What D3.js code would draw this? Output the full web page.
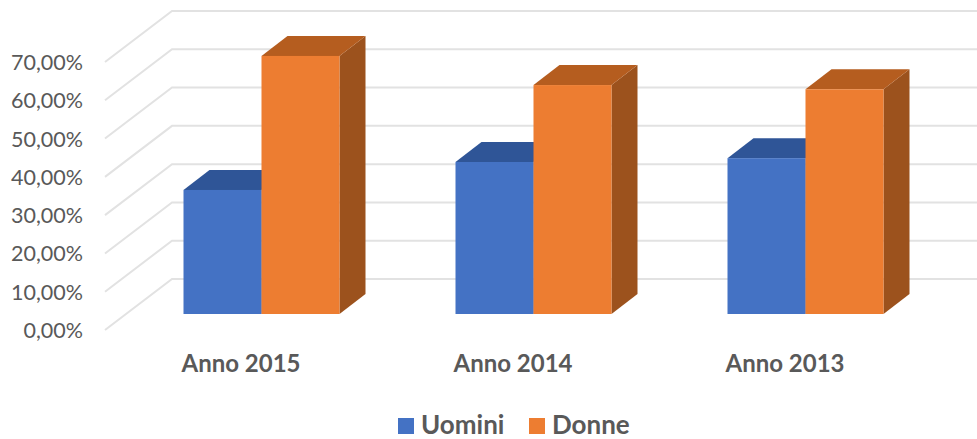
<!DOCTYPE html>
<html><head><meta charset="utf-8">
<script src="https://cdn.jsdelivr.net/npm/d3@7/dist/d3.min.js"></script>
<style>html,body{margin:0;padding:0;background:#fff}svg{display:block}text{font-family:Lato,sans-serif}</style>
</head><body>
<svg id="c" width="977" height="439"></svg>
<script>
const categories = ["Anno 2015","Anno 2014","Anno 2013"];
const uomini = [32.4,39.7,40.7];
const donne = [67.4,59.8,58.7];
const seriesNames = ["Uomini","Donne"];
const ticks = [0,10,20,30,40,50,60,70];
const colors = {Uomini:{front:"#4472C4",top:"#2F5597",side:"#2F5597"},Donne:{front:"#ED7D31",top:"#B55D1F",side:"#9C521D"}};
const svg = d3.select("#c");
const W=977;
const dx=67, dy=-51;
const y = d3.scaleLinear().domain([0,70]).range([330,62]);
const barW=78, depthX=26, depthY=-20;
const g = svg.append("g");
ticks.forEach(t=>{
  const yy = y(t);
  g.append("path").attr("d",`M${105},${yy}L${105+dx},${yy+dy}L${W},${yy+dy}`).attr("fill","none").attr("stroke","#e2e2e2").attr("stroke-width",2);
  svg.append("text").attr("x",83).attr("y",yy+8).attr("text-anchor","end").attr("font-size",21.5).attr("fill","#595959").text(t.toFixed(2).replace(".",",")+"%");
});
const base = 314;
const h = v => y(0)-y(v);
const px = d3.scalePoint().domain(categories).range([183.5,727.5]);
function bar(xl,v,c){
  const top=base-h(v);
  g.append("path").attr("d",`M${xl+barW},${base}L${xl+barW+depthX},${base+depthY}L${xl+barW+depthX},${top+depthY}L${xl+barW},${top}Z`).attr("fill",c.side);
  g.append("path").attr("d",`M${xl},${top}L${xl+depthX},${top+depthY}L${xl+barW+depthX},${top+depthY}L${xl+barW},${top}Z`).attr("fill",c.top);
  g.append("rect").attr("x",xl).attr("y",top).attr("width",barW).attr("height",h(v)).attr("fill",c.front);
}
categories.forEach((c,i)=>{
  const xl=px(c);
  bar(xl,uomini[i],colors.Uomini);
  bar(xl+barW,donne[i],colors.Donne);
  svg.append("text").attr("x",xl+57.5).attr("y",372).attr("text-anchor","middle").attr("font-size",24).attr("font-weight",700).attr("fill","#595959").text(c);
});
const lx=[398,529], tx=[421,552];
seriesNames.forEach((s,i)=>{
  svg.append("rect").attr("x",lx[i]).attr("y",418).attr("width",16).attr("height",16).attr("fill",colors[s].front);
  svg.append("text").attr("x",tx[i]).attr("y",434).attr("font-size",26).attr("font-weight",700).attr("fill","#595959").text(s);
});
</script>
</body></html>
